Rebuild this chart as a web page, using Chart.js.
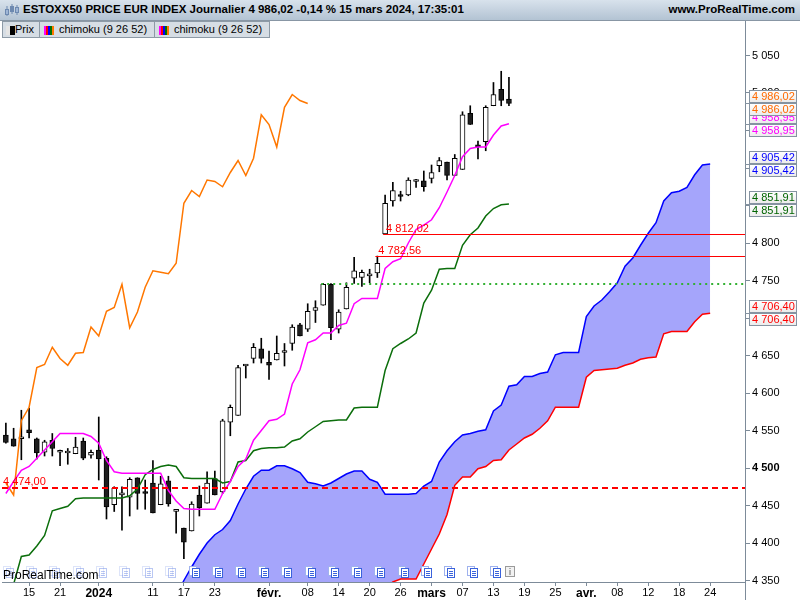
<!DOCTYPE html>
<html>
<head>
<meta charset="utf-8">
<script src="https://cdn.jsdelivr.net/npm/chart.js@4.4.1/dist/chart.umd.min.js"></script>
<style>
  html, body { margin: 0; padding: 0; background: #fff; }
  #wrap { position: relative; width: 800px; height: 600px; overflow: hidden;
          font-family: "Liberation Sans", Arial, sans-serif; color: #000; }
  #hdr { position: absolute; left: 0; top: 0; width: 800px; height: 20px;
         background: linear-gradient(#d8e2ec, #b3c3d3); border-bottom: 1px solid #8896a4; }
  #hdr .t { position: absolute; left: 23px; top: 3px; font-weight: bold; font-size: 11.5px; white-space: nowrap; }
  #hdr .r { position: absolute; right: 5px; top: 3px; font-weight: bold; font-size: 11.5px; }
  #hdr svg { position: absolute; left: 4px; top: 3px; }
  .lb { position: absolute; top: 21px; height: 17px; box-sizing: border-box; border: 1px solid #8d9aa6;
        background: #d6dde4; font-size: 11px; line-height: 15px; white-space: nowrap; }
  .lb span.ic { position: absolute; top: 4px; height: 9px; }
  .lb span.tx { position: absolute; top: 0; }
  canvas { position: absolute; left: 0; top: 21px; }
</style>
</head>
<body>
<div id="wrap">
  <div id="hdr">
    <svg width="16" height="15" viewBox="0 0 16 15">
      <line x1="3" y1="3" x2="3" y2="13" stroke="#6d89b0"/>
      <rect x="1.5" y="6.5" width="3" height="5" fill="#9fb6d6" stroke="#6d89b0"/>
      <line x1="8" y1="1" x2="8" y2="11" stroke="#6d89b0"/>
      <rect x="6.5" y="3.5" width="3" height="5" fill="#6d89b0" stroke="#6d89b0"/>
      <line x1="13" y1="2" x2="13" y2="12" stroke="#6d89b0"/>
      <rect x="11.5" y="4.5" width="3" height="5" fill="#9fb6d6" stroke="#6d89b0"/>
    </svg>
    <div class="t">ESTOXX50 PRICE EUR INDEX Journalier 4 986,02 -0,14 % 15 mars 2024, 17:35:01</div>
    <div class="r">www.ProRealTime.com</div>
  </div>
  <div class="lb" style="left:2px;width:38px;">
    <span class="ic" style="left:3px;width:4px;background:#e4e4e4;"></span>
    <span class="ic" style="left:7px;width:5px;background:#000;"></span>
    <span class="tx" style="left:12px;">Prix</span>
  </div>
  <div class="lb" style="left:39px;width:116px;">
    <span class="ic" style="left:4px;width:2px;background:#ff00ff;"></span>
    <span class="ic" style="left:6px;width:2px;background:#ff0000;"></span>
    <span class="ic" style="left:8px;width:2px;background:#0000ff;"></span>
    <span class="ic" style="left:10px;width:2px;background:#007000;"></span>
    <span class="ic" style="left:12px;width:2px;background:#ff7700;"></span>
    <span class="tx" style="left:19px;">chimoku (9 26 52)</span>
  </div>
  <div class="lb" style="left:154px;width:116px;">
    <span class="ic" style="left:4px;width:2px;background:#ff00ff;"></span>
    <span class="ic" style="left:6px;width:2px;background:#ff0000;"></span>
    <span class="ic" style="left:8px;width:2px;background:#0000ff;"></span>
    <span class="ic" style="left:10px;width:2px;background:#007000;"></span>
    <span class="ic" style="left:12px;width:2px;background:#ff7700;"></span>
    <span class="tx" style="left:19px;">chimoku (9 26 52)</span>
  </div>
  <canvas id="c" width="800" height="579"></canvas>
</div>
<script>
  // séances (jours de bourse), du 12/12/2023 au 30/04/2024
  var categories = [
    '12/12','13/12','14/12','15/12','18/12','19/12','20/12','21/12','22/12','27/12','28/12','29/12',
    '02/01','03/01','04/01','05/01','08/01','09/01','10/01','11/01','12/01','15/01','16/01','17/01',
    '18/01','19/01','22/01','23/01','24/01','25/01','26/01','29/01','30/01','31/01',
    '01/02','02/02','05/02','06/02','07/02','08/02','09/02','12/02','13/02','14/02','15/02','16/02',
    '19/02','20/02','21/02','22/02','23/02','26/02','27/02','28/02','29/02',
    '01/03','04/03','05/03','06/03','07/03','08/03','11/03','12/03','13/03','14/03','15/03',
    '18/03','19/03','20/03','21/03','22/03','25/03','26/03','27/03','28/03',
    '02/04','03/04','04/04','05/04','08/04','09/04','10/04','11/04','12/04','15/04','16/04','17/04',
    '18/04','19/04','22/04','23/04','24/04','25/04','26/04','29/04','30/04'
  ];
  var tickDates = ['15/12','21/12','02/01','11/01','17/01','23/01','01/02','08/02','14/02','20/02','26/02',
                   '01/03','07/03','13/03','19/03','25/03','02/04','08/04','12/04','18/04','24/04'];
  var tickTexts = ['15','21','2024','11','17','23','févr.','08','14','20','26',
                   'mars','07','13','19','25','avr.','08','12','18','24'];
  var boldTicks = ['2024','févr.','mars','avr.'];
  var yTicks = [4350,4400,4450,4500,4550,4600,4650,4700,4750,4800,4850,4900,4950,5000,5050];

  // bougies
  var opens = [4544,4539,4539,4551,4539,4521,4537,4521,4520,4519,4536,4517,
               4524,4513,4451,4464,4461,4487,4467,4480,4451,4483,4442,4420,4416,4464,4453,4486,4468,4561,4570,4636,4646,4659,
               4641,4644,4654,4666,4691,4685,4710,4717,4745,4685,4712,4753,4754,4756,4760,4812.02,4856,4864,4864,4882,4883,
               4886,4903,4908,4890,4898,4973,4931,4935,4983,5005,4992];
  var highs = [4560,4553,4577,4580,4540,4537,4546,4524,4526,4541,4540,4524,
               4568,4515,4475,4475,4487,4487,4484,4510,4489,4489,4445,4420,4455,4476,4495,4496,4565,4584,4637,4638,4666,4673,
               4656,4676,4666,4691,4693,4719,4723,4746,4746,4711,4747,4781,4764,4765,4782.56,4864,4881,4869,4887,4885,4896,
               4904,4914,4908,4918,4975,4983,4936,4983,5014,5029,5021];
  var lows = [4533,4529,4511,4540,4512,4516,4516,4503,4505,4519,4511,4513,
              4484,4432,4442,4417,4436,4445,4445,4440,4451,4449,4413,4379,4416,4436,4453,4464,4466,4543,4570,4620,4640,4640,
              4618,4644,4636,4657,4676,4682,4694,4717,4671,4680,4712,4746,4742,4747,4754,4812.02,4849,4856,4863,4874,4869,
              4880,4895,4884,4890,4898,4958,4912,4923,4983,4983,4983];
  var closes = [4534,4529,4540,4547,4520,4535,4526,4523,4521,4528,4513,4521,
                4512,4448,4473,4467,4485,4466,4466,4440,4479,4452,4445,4401,4452,4447,4480,4464,4563,4581,4634,4638,4661,4646,
                4637,4653,4654,4688,4676,4709,4714,4745,4687,4708,4741,4763,4761,4759,4773,4853,4870,4862,4884,4882,4875,
                4894,4910,4890,4913,4971,4958,4928,4981,4998,4990,4986.02];

  // Ichimoku (9 26 52)
  var tenkan = [4466,4482,4497,4502,4513,4524,4535,4546,4546,4546,4546,4542,4533,4510,4495,4493,4493,4493,4493,4493,
                4493,4470,4456,4446,4445,4445,4445,4445,4466,4482,4502,4512,4537,4550,4563,4565,4572,4612,4631,4667,
                4671,4680,4680,4690,4693,4719,4726,4726,4726,4766,4775,4779,4800,4818,4824,4831,4847,4868,4890,4915,
                4926,4928,4928,4944,4956,4958.95];
  var kijun = [4330,4345,4382,4384,4396,4410,4443,4446,4449,4459,4460,4460,4460,4460,4460,4460,4463,4472,4491,4498,
               4502,4504,4502,4487,4486,4486,4486,4486,4480,4482,4508,4510,4523,4526,4527,4527,4528,4536,4539,4548,
               4555,4562,4563,4564,4564,4580,4581,4581,4581,4630,4659,4666,4672,4680,4720,4737,4765,4766,4766,4797,
               4811,4820,4836,4846,4851,4851.91];
  var chikou = [4480,4464,4563,4581,4634,4638,4661,4646,4637,4653,4654,4688,4676,4709,4714,4745,4687,4708,4741,4763,
                4761,4759,4773,4853,4870,4862,4884,4882,4875,4894,4910,4890,4913,4971,4958,4928,4981,4998,4990,4986.02];
  var senkouA = [null,null,null,null,null,null,null,null,null,null,null,null,null,null,null,null,null,null,null,null,
                 4290,4305,4330,4350,4368,4385,4400,4411,4418,4430,4452,4472,4489,4497,4497,4503,4503,4499,4494,4481,
                 4479,4476,4480,4486,4492,4496,4496,4485,4481,4465,4465,4465,4465,4466,4476,4482,4508,4523,4535,4544,
                 4546,4549,4551,4576,4584,4609,4611,4622,4622,4626,4628,4651,4654,4654,4654,4702,4716,4724,4735,4747,
                 4769,4780,4797,4813,4827,4856,4867,4869,4874,4891,4904,4905.42];
  var senkouB = [null,null,null,null,null,null,null,null,null,null,null,null,null,null,null,null,null,null,null,null,
                 4290,4295,4300,4305,4310,4312,4315,4318,4320,4322,4325,4326,4328,4330,4330,4332,4332,4334,4334,4335,
                 4335,4336,4336,4337,4337,4338,4338,4339,4339,4340,4348,4352,4352,4352,4372,4392,4412,4438,4477,4488,
                 4488,4499,4502,4510,4511,4524,4532,4540,4545,4553,4563,4581,4581,4581,4581,4621,4630,4631,4632,4633,
                 4637,4640,4645,4647,4648,4679,4682,4682,4682,4695,4705,4706.40];

  // niveaux horizontaux
  var levelValues = [4474, 4812.02, 4782.56, 4745];
  var levelFrom = ['12/12', '22/02', '21/02', '12/02'];
  var levelTexts = ['4 474,00', '4 812,02', '4 782,56', ''];

  var FONT = '"Liberation Sans", Arial, sans-serif';

  function fmt(v, dec) {
    var s = v.toFixed(dec).split('.');
    var ip = s[0].replace(/\B(?=(\d{3})+(?!\d))/g, ' ');
    return s.length > 1 ? ip + ',' + s[1] : ip;
  }
  function last(arr) {
    for (var i = arr.length - 1; i >= 0; i--) if (arr[i] != null) return arr[i];
  }
  function tickText(idx) {
    var k = tickDates.indexOf(categories[idx]);
    return k >= 0 ? tickTexts[k] : '';
  }

  var overlay = {
    id: 'overlay',
    afterDatasetsDraw: function(chart) {
      var ctx = chart.ctx, xs = chart.scales.x, ys = chart.scales.y, a = chart.chartArea;
      ctx.save();
      ctx.beginPath();
      ctx.rect(a.left, a.top, a.right - a.left, a.bottom - a.top);
      ctx.clip();

      // niveaux
      var styles = [
        { color: '#ff0000', width: 2, dash: [6, 4] },
        { color: '#ff0000', width: 1, dash: [] },
        { color: '#ff0000', width: 1, dash: [] },
        { color: '#33b033', width: 2, dash: [2, 4] }
      ];
      levelValues.forEach(function(v, k) {
        var st = styles[k];
        var py = Math.round(ys.getPixelForValue(v)) + (st.width === 1 ? 0.5 : 0);
        var i0 = categories.indexOf(levelFrom[k]);
        var px = k === 0 ? a.left : xs.getPixelForValue(i0) - 2;
        ctx.strokeStyle = st.color;
        ctx.lineWidth = st.width;
        ctx.setLineDash(st.dash);
        ctx.beginPath();
        ctx.moveTo(px, py);
        ctx.lineTo(a.right, py);
        ctx.stroke();
        if (levelTexts[k]) {
          ctx.setLineDash([]);
          ctx.fillStyle = '#ff0000';
          ctx.font = '11px ' + FONT;
          ctx.textAlign = 'left';
          ctx.textBaseline = 'alphabetic';
          ctx.fillText(levelTexts[k], (k === 0 ? a.left + 1 : px + 3), py - 3);
        }
      });
      ctx.setLineDash([]);

      // icônes d'évènements
      var iy = a.bottom - 16;
      for (var i = 0; i <= 63; i += 3) {
        var ix = Math.round(xs.getPixelForValue(i)) - 3;
        ctx.globalAlpha = i < 24 ? 0.35 : 1;
        ctx.lineWidth = 1;
        ctx.fillStyle = '#ffffff';
        ctx.strokeStyle = '#9fb2ee';
        ctx.fillRect(ix + 0.5, iy + 0.5, 7, 9);
        ctx.strokeRect(ix + 0.5, iy + 0.5, 7, 9);
        ctx.strokeStyle = '#3a62dc';
        ctx.fillRect(ix + 3.5, iy + 2.5, 7, 9);
        ctx.strokeRect(ix + 3.5, iy + 2.5, 7, 9);
        ctx.beginPath();
        for (var j = 0; j < 3; j++) {
          ctx.moveTo(ix + 5, iy + 5.5 + j * 2);
          ctx.lineTo(ix + 9, iy + 5.5 + j * 2);
        }
        ctx.stroke();
      }
      ctx.globalAlpha = 1;
      var qx = Math.round(xs.getPixelForValue(65)) - 4;
      ctx.fillStyle = '#f2f2f2';
      ctx.strokeStyle = '#9a9a9a';
      ctx.fillRect(qx + 0.5, iy + 0.5, 9, 10);
      ctx.strokeRect(qx + 0.5, iy + 0.5, 9, 10);
      ctx.fillStyle = '#8a8a8a';
      ctx.font = 'bold 9px ' + FONT;
      ctx.textAlign = 'center';
      ctx.fillText('i', qx + 5, iy + 9);

      // filigrane
      ctx.fillStyle = '#000';
      ctx.font = '12px ' + FONT;
      ctx.textAlign = 'left';
      ctx.fillText('ProRealTime.com', a.left + 1, a.bottom - 3);
      ctx.restore();
    },
    afterDraw: function(chart) {
      var ctx = chart.ctx, ys = chart.scales.y, a = chart.chartArea;
      ctx.save();
      // séparateur vertical jusqu'en bas
      ctx.strokeStyle = '#7d8b99';
      ctx.lineWidth = 1;
      ctx.beginPath();
      ctx.moveTo(a.right + 0.5, 0);
      ctx.lineTo(a.right + 0.5, chart.height);
      ctx.stroke();

      var marks = [
        [last(senkouB), '#ff0000'],
        [last(kijun), '#006400'],
        [last(senkouA), '#0000ff'],
        [last(tenkan), '#ff00ff'],
        [last(closes), '#ff6a00']
      ];
      var bx = a.right + 4, bw = 47;
      marks.forEach(function(m) {
        var py = Math.round(ys.getPixelForValue(m[0]));
        [[py - 12.5, 12], [py + 0.5, 12]].forEach(function(b) {
          var g = ctx.createLinearGradient(0, b[0], 0, b[0] + b[1]);
          g.addColorStop(0, '#ffffff');
          g.addColorStop(1, '#ebebeb');
          ctx.fillStyle = g;
          ctx.fillRect(bx + 0.5, b[0], bw, b[1]);
          ctx.strokeStyle = '#8593a1';
          ctx.strokeRect(bx + 0.5, b[0], bw, b[1]);
          ctx.fillStyle = m[1];
          ctx.font = '11px ' + FONT;
          ctx.textAlign = 'left';
          ctx.textBaseline = 'middle';
          ctx.fillText(fmt(m[0], 2), bx + 3, b[0] + b[1] / 2 + 0.5);
        });
        ctx.strokeStyle = '#8593a1';
        ctx.beginPath();
        ctx.moveTo(a.right, py + 0.5);
        ctx.lineTo(bx, py + 0.5);
        ctx.stroke();
      });
      ctx.restore();
    }
  };

  var wickData = lows.map(function(l, i) { return [l, highs[i]]; });
  var bodyData = opens.map(function(o, i) { return [o, closes[i]]; });
  var bodyFill = opens.map(function(o, i) { return closes[i] >= o ? '#ffffff' : '#1e1e1e'; });

  Chart.defaults.font.family = FONT;
  Chart.defaults.font.size = 11;
  Chart.defaults.color = '#000';

  new Chart(document.getElementById('c'), {
    type: 'bar',
    data: {
      labels: categories,
      datasets: [
        { type: 'line', label: 'Senkou A', data: senkouA, borderColor: '#0000ff', borderWidth: 1.5,
          pointRadius: 0, tension: 0, fill: '+1', backgroundColor: '#a5a5fb', order: 10 },
        { type: 'line', label: 'Senkou B', data: senkouB, borderColor: '#ff0000', borderWidth: 1.5,
          pointRadius: 0, tension: 0, fill: false, order: 9 },
        { label: 'Mèches', data: wickData, backgroundColor: '#000', barThickness: 1,
          grouped: false, order: 6 },
        { label: 'Prix', data: bodyData, backgroundColor: bodyFill, borderColor: '#000', borderWidth: 1,
          borderSkipped: false, barThickness: 5, minBarLength: 2, grouped: false, order: 5 },
        { type: 'line', label: 'Chikou', data: chikou, borderColor: '#ff7700', borderWidth: 1.5,
          pointRadius: 0, tension: 0, fill: false, order: 3 },
        { type: 'line', label: 'Kijun', data: kijun, borderColor: '#0b6e0b', borderWidth: 1.5,
          pointRadius: 0, tension: 0, fill: false, order: 2 },
        { type: 'line', label: 'Tenkan', data: tenkan, borderColor: '#ff00ff', borderWidth: 1.5,
          pointRadius: 0, tension: 0, fill: false, order: 1 }
      ]
    },
    options: {
      responsive: false,
      animation: false,
      layout: { padding: { left: 2, right: 0, top: 0, bottom: 0 } },
      plugins: { legend: { display: false }, tooltip: { enabled: false } },
      scales: {
        x: {
          offset: true,
          grid: {
            display: true, drawOnChartArea: false, offset: false, tickLength: 4,
            tickColor: function(c) { return tickText(c.index) ? '#7d8b99' : 'rgba(0,0,0,0)'; }
          },
          border: { display: true, color: '#7d8b99' },
          ticks: {
            autoSkip: false, maxRotation: 0, minRotation: 0, padding: 0,
            callback: function(v) { return tickText(v); },
            font: function(c) {
              var t = c.tick ? c.tick.label : '';
              return boldTicks.indexOf(t) >= 0 ? { size: 12, weight: 'bold' } : { size: 11 };
            }
          },
          afterFit: function(s) { s.height = 18; s.paddingLeft = 0; s.paddingRight = 0; }
        },
        y: {
          position: 'right',
          min: 4348,
          max: 5096,
          afterBuildTicks: function(s) { s.ticks = yTicks.map(function(v) { return { value: v }; }); },
          grid: { display: true, drawOnChartArea: false, tickLength: 5, tickColor: '#7d8b99' },
          border: { display: true, color: '#7d8b99' },
          ticks: {
            padding: 2,
            callback: function(v) { return fmt(v, 0); },
            font: function(c) {
              return (c.tick && c.tick.value === 4500) ? { size: 11, weight: 'bold' } : { size: 11 };
            }
          },
          afterFit: function(s) { s.width = 55; s.paddingTop = 0; s.paddingBottom = 0; }
        }
      }
    },
    plugins: [overlay]
  });
</script>
</body>
</html>
